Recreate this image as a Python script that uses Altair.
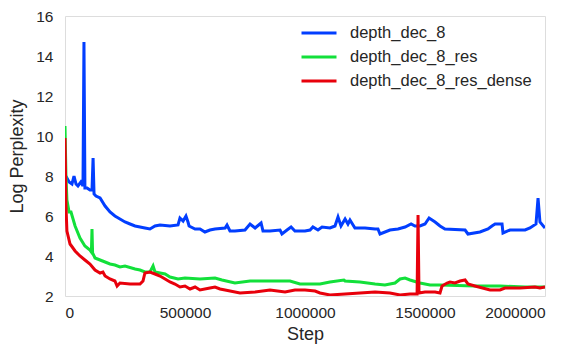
import altair as alt
import pandas as pd

blue_steps = [0, 8000, 17000, 29000, 37500, 46000, 54000, 66000, 75000, 79000, 83000, 92000, 104000, 112500, 117000, 121000, 129000, 146000, 167000, 187500, 208000, 229000, 250000, 271000, 292000, 312500, 333000, 354000, 375000, 396000, 437500, 471000, 479000, 492000, 504000, 512500, 517000, 542000, 562500, 583000, 604000, 625000, 667000, 675000, 687500, 708000, 750000, 771000, 792000, 817000, 825000, 854000, 896000, 904000, 925000, 942000, 958000, 1000000, 1021000, 1033000, 1054000, 1071000, 1104000, 1125000, 1137500, 1150000, 1167000, 1179000, 1187500, 1208000, 1250000, 1292000, 1304000, 1312500, 1354000, 1387500, 1417000, 1442000, 1458000, 1479000, 1500000, 1517000, 1542000, 1562500, 1583000, 1667000, 1679000, 1729000, 1762500, 1779000, 1792000, 1821000, 1825000, 1854000, 1917000, 1937500, 1962500, 1971000, 1979000, 2000000]
blue_vals = [7.8, 7.9, 7.7, 7.6, 8.0, 7.6, 7.5, 7.7, 7.5, 14.7, 7.4, 7.4, 7.3, 7.3, 8.9, 7.1, 7.0, 6.9, 6.5, 6.2, 6.0, 5.85, 5.7, 5.6, 5.5, 5.45, 5.4, 5.35, 5.5, 5.55, 5.5, 5.55, 5.9, 5.75, 6.0, 5.7, 5.5, 5.35, 5.35, 5.2, 5.3, 5.35, 5.4, 5.55, 5.25, 5.25, 5.3, 5.6, 5.4, 5.65, 5.25, 5.25, 5.3, 5.1, 5.3, 5.45, 5.25, 5.25, 5.3, 5.45, 5.3, 5.45, 5.4, 5.5, 5.95, 5.5, 5.85, 5.6, 5.8, 5.4, 5.4, 5.35, 5.35, 5.1, 5.3, 5.35, 5.45, 5.6, 5.5, 5.5, 5.6, 5.9, 5.7, 5.5, 5.35, 5.3, 5.1, 5.2, 5.35, 5.5, 5.6, 5.6, 5.15, 5.3, 5.3, 5.4, 5.6, 6.9, 5.7, 5.4]

green_steps = [0, 4000, 8000, 17000, 25000, 42000, 62500, 83000, 104000, 110000, 112500, 115000, 125000, 146000, 167000, 187500, 208000, 229000, 250000, 292000, 312500, 333000, 354000, 367000, 375000, 417000, 437500, 471000, 500000, 562500, 625000, 654000, 708000, 771000, 854000, 937500, 979000, 1021000, 1062500, 1104000, 1162000, 1167000, 1229000, 1292000, 1333000, 1375000, 1396000, 1417000, 1437500, 1479000, 1521000, 1562500, 1708000, 1812500, 1917000, 2000000]
green_vals = [10.5, 8.0, 6.8, 6.2, 6.2, 5.5, 4.9, 4.5, 4.3, 4.2, 5.35, 4.15, 3.9, 3.8, 3.7, 3.6, 3.55, 3.45, 3.5, 3.35, 3.3, 3.2, 3.2, 3.5, 3.2, 3.1, 2.95, 2.85, 2.9, 2.85, 2.9, 2.8, 2.65, 2.75, 2.75, 2.75, 2.6, 2.6, 2.6, 2.7, 2.8, 2.75, 2.7, 2.6, 2.55, 2.65, 2.85, 2.9, 2.8, 2.65, 2.55, 2.55, 2.5, 2.5, 2.45, 2.45]

red_steps = [0, 4000, 8000, 21000, 42000, 62500, 83000, 104000, 125000, 146000, 158000, 167000, 187500, 208000, 217000, 229000, 271000, 312500, 325000, 333000, 354000, 375000, 396000, 417000, 437500, 458000, 479000, 500000, 521000, 542000, 562500, 604000, 625000, 646000, 667000, 729000, 792000, 854000, 917000, 958000, 1000000, 1042000, 1062500, 1104000, 1167000, 1229000, 1292000, 1354000, 1396000, 1437500, 1467000, 1471000, 1475000, 1500000, 1542000, 1562500, 1571000, 1592000, 1604000, 1625000, 1646000, 1667000, 1679000, 1708000, 1771000, 1812500, 1833000, 1896000, 1958000, 1979000, 2000000]
red_vals = [9.9, 6.5, 5.25, 4.6, 4.25, 4.0, 3.8, 3.6, 3.3, 3.15, 3.2, 3.0, 2.85, 2.75, 2.5, 2.65, 2.6, 2.6, 2.75, 3.15, 3.2, 3.1, 3.0, 2.85, 2.7, 2.6, 2.45, 2.5, 2.35, 2.45, 2.3, 2.4, 2.45, 2.35, 2.3, 2.15, 2.2, 2.3, 2.2, 2.3, 2.3, 2.25, 2.15, 2.05, 2.1, 2.15, 2.2, 2.15, 2.05, 2.1, 2.1, 6.05, 2.15, 2.2, 2.2, 2.15, 2.5, 2.65, 2.7, 2.65, 2.75, 2.8, 2.6, 2.5, 2.3, 2.3, 2.4, 2.4, 2.45, 2.4, 2.45]

series_names = ["depth_dec_8", "depth_dec_8_res", "depth_dec_8_res_dense"]
series_colors = ["#023eff", "#12e03a", "#e8000b"]
x_ticks = [0, 500000, 1000000, 1500000, 2000000]
y_ticks = [2, 4, 6, 8, 10, 12, 14, 16]

frames = []
for name, steps, vals in zip(series_names, [blue_steps, green_steps, red_steps], [blue_vals, green_vals, red_vals]):
    frames.append(pd.DataFrame({"Step": steps, "value": vals, "series": name, "order": range(len(steps))}))
df = pd.concat(frames, ignore_index=True)

font = "Liberation Sans"
text_color = "#262626"
chart = alt.Chart(df).mark_line(strokeWidth=3, clip=True).encode(
    x=alt.X("Step:Q", scale=alt.Scale(domain=[0, 2000000], nice=False),
            axis=alt.Axis(values=x_ticks, format="d", title="Step", grid=False, ticks=False,
                          labelPadding=9, titlePadding=5, labelFontSize=15.5, titleFontSize=18,
                          labelColor=text_color, titleColor=text_color, domain=False,
                          labelFont=font, titleFont=font, titleFontWeight="normal")),
    y=alt.Y("value:Q", scale=alt.Scale(domain=[2, 16], nice=False),
            axis=alt.Axis(values=y_ticks, title="Log Perplexity", grid=False, ticks=False,
                          labelPadding=12, titlePadding=9, labelFontSize=15.5, titleFontSize=18,
                          labelColor=text_color, titleColor=text_color, domain=False,
                          labelFont=font, titleFont=font, titleFontWeight="normal")),
    color=alt.Color("series:N", scale=alt.Scale(domain=series_names, range=series_colors),
                    legend=alt.Legend(title=None, orient="none", legendX=235, legendY=5,
                                      symbolType="stroke", symbolSize=1225, symbolStrokeWidth=3,
                                      clipHeight=24, rowPadding=0, labelOffset=12, labelLimit=400,
                                      labelFontSize=16.5, labelFont=font, labelColor=text_color)),
    order="order:Q",
).properties(
    width=480, height=280,
    autosize=alt.AutoSizeParams(type="none"),
    padding={"left": 57, "top": 8, "right": 30, "bottom": 51},
).configure_view(stroke=text_color, strokeWidth=1.25).configure(background="white")

chart.save("out.html", embed_options={"renderer": "svg", "actions": False})
